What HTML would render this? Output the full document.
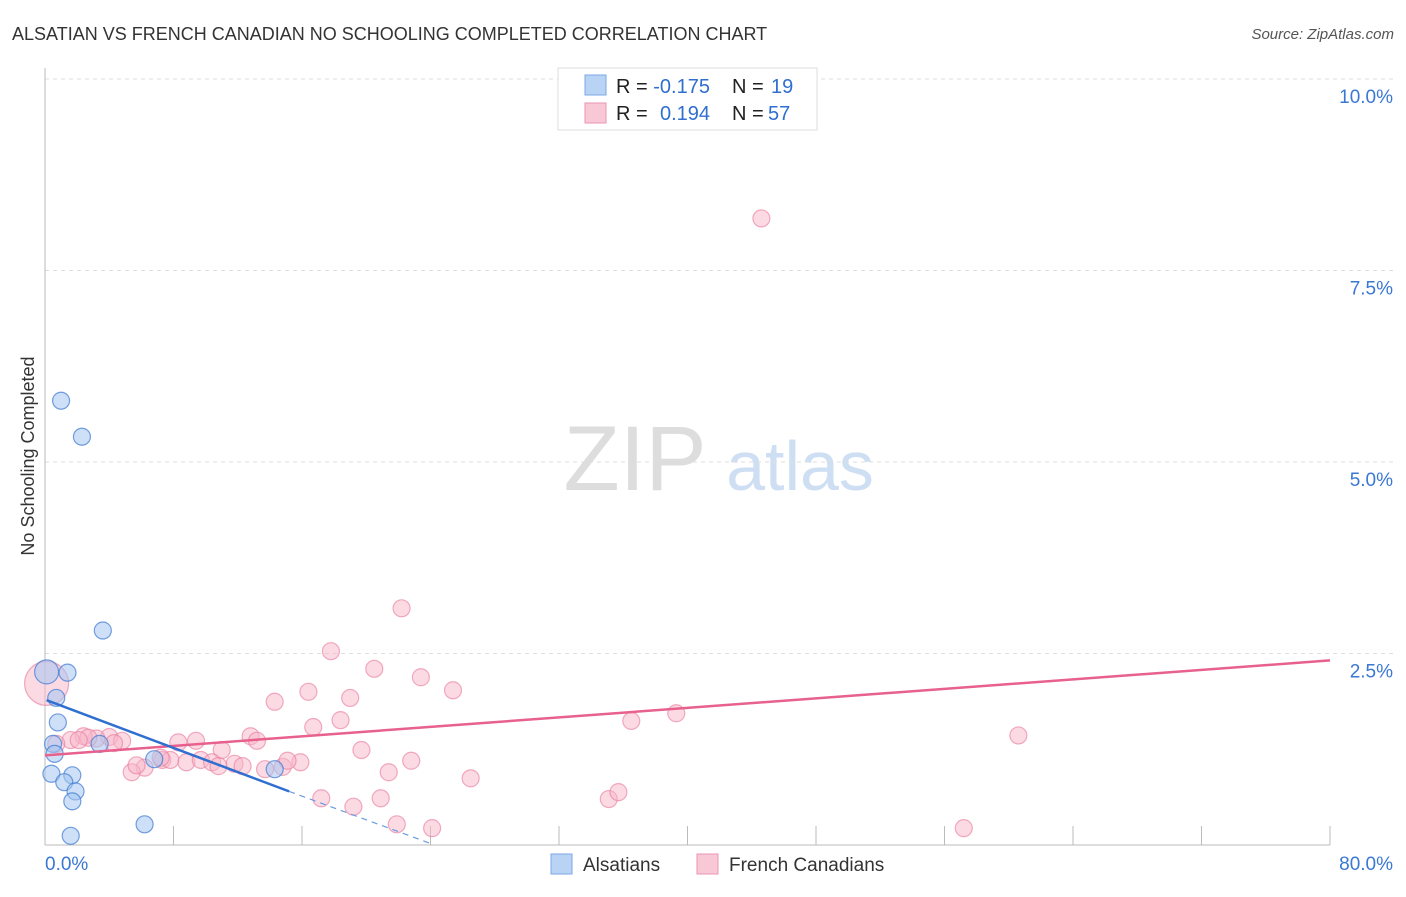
<!DOCTYPE html>
<html><head><meta charset="utf-8"><style>
body{margin:0;background:#fff;font-family:"Liberation Sans",sans-serif}
svg text{font-family:"Liberation Sans",sans-serif}
</style></head><body>
<svg id="chart" width="1406" height="892">
<text x="12" y="40" font-size="18" fill="#333">ALSATIAN VS FRENCH CANADIAN NO SCHOOLING COMPLETED CORRELATION CHART</text>
<text x="1394" y="39" font-size="15" fill="#555" font-style="italic" text-anchor="end">Source: ZipAtlas.com</text>
<text x="34" y="456" font-size="18" fill="#333" text-anchor="middle" transform="rotate(-90 34 456)">No Schooling Completed</text>
<g><text x="635" y="490" font-size="92" fill="#ddd" font-family="Liberation Serif" text-anchor="middle">ZIP</text><text x="800" y="490" font-size="70" fill="#cfdff3" text-anchor="middle">atlas</text></g>
<g id="grid"></g><g id="axes"></g><g id="marks"></g>
<g>
<rect x="558" y="68" width="259" height="62" fill="#fff" stroke="#ddd"/>
<rect x="585" y="75" width="21" height="20" fill="#b9d3f5" stroke="#7aa7e8"/>
<rect x="585" y="103" width="21" height="20" fill="#f9c8d6" stroke="#eb95b1"/>
<text x="616" y="93" font-size="20" fill="#222">R = <tspan fill="#2f6fd0">-0.175</tspan><tspan x="732">N = </tspan><tspan fill="#2f6fd0" x="771">19</tspan></text>
<text x="616" y="120" font-size="20" fill="#222">R = <tspan fill="#2f6fd0" x="660">0.194</tspan><tspan x="732">N = </tspan><tspan fill="#2f6fd0" x="768">57</tspan></text>
</g>
<g>
<rect x="551" y="854" width="21" height="20" fill="#b9d3f5" stroke="#7aa7e8"/>
<text x="583" y="871" font-size="19" fill="#333">Alsatians</text>
<rect x="697" y="854" width="21" height="20" fill="#f9c8d6" stroke="#eb95b1"/>
<text x="729" y="871" font-size="19" fill="#333">French Canadians</text>
</g>
</svg>
<script>
const yTicks=[2.5,5,7.5,10];
const yTickLabels=["2.5%","5.0%","7.5%","10.0%"];
const xTicks=[0,8,16,24,32,40,48,56,64,72,80];
const blueX=[1.0,2.3,3.6,0.1,1.4,0.7,0.8,0.5,0.6,0.4,1.7,1.2,1.9,1.7,3.4,6.8,14.3,6.2,1.6];
const blueY=[5.8,5.33,2.8,2.26,2.25,1.92,1.6,1.32,1.19,0.93,0.91,0.82,0.7,0.57,1.32,1.12,0.99,0.27,0.12];
const pinkX=[0.1,44.6,22.2,17.8,20.5,23.4,16.4,19.0,25.4,14.3,16.7,18.4,36.5,39.3,60.6,12.8,13.2,19.7,9.4,8.3,11.0,4.0,4.8,3.2,2.4,1.6,0.7,2.7,4.3,2.1,8.8,9.7,10.4,11.8,12.3,13.7,14.8,15.9,15.1,22.8,21.4,26.5,6.2,5.4,7.3,7.8,5.7,10.8,17.2,19.2,20.9,21.9,24.1,35.1,35.7,57.2,7.2];
const pinkY=[2.11,8.18,3.09,2.53,2.3,2.19,2.0,1.92,2.02,1.87,1.54,1.63,1.62,1.72,1.43,1.42,1.36,1.24,1.36,1.34,1.24,1.41,1.36,1.39,1.42,1.37,1.32,1.40,1.33,1.37,1.08,1.11,1.08,1.06,1.03,0.99,1.02,1.08,1.10,1.10,0.95,0.87,1.01,0.95,1.11,1.11,1.04,1.03,0.61,0.50,0.61,0.27,0.22,0.60,0.69,0.22,1.14];
const blueLine=[[0.1,1.89],[15.2,0.7]];
const blueDash=[[15.2,0.7],[24.0,0.02]];
const pinkLine=[[0,1.17],[80,2.41]];
const NS="http://www.w3.org/2000/svg";
const X=v=>45+v/80*1285, Y=v=>845-v*76.6;
function mk(t,a,p){const e=document.createElementNS(NS,t);for(const k in a)e.setAttribute(k,a[k]);p.appendChild(e);return e;}
const grid=document.getElementById('grid'),axes=document.getElementById('axes'),marks=document.getElementById('marks');
yTicks.forEach((t,i)=>{
 const l=mk('line',{x1:45,x2:1395,y1:Y(t),y2:Y(t),stroke:'#ddd','stroke-dasharray':'4 4'},grid);
 
 
 const tx=mk('text',{x:1393,y:Y(t)+24,'font-size':19,fill:'#3a78d4','text-anchor':'end'},axes);
 tx.textContent=yTickLabels[i];
 
 
});
const ya=mk('line',{x1:45,x2:45,y1:68,y2:845,stroke:'#bbb'},axes);


const xa=mk('line',{x1:45,x2:1330,y1:845,y2:845,stroke:'#bbb'},axes);


xTicks.forEach(t=>{
 const l=mk('line',{x1:X(t),x2:X(t),y1:826,y2:845,stroke:'#bbb'},axes);
 
 
});
[[0,"0.0%",'start',45],[80,"80.0%",'end',1393]].forEach(([v,s,a,x])=>{
 const t=mk('text',{x:x,y:870,'font-size':19,fill:'#3a78d4','text-anchor':a},axes);t.textContent=s;
 
 
});
pinkX.forEach((v,i)=>{
 const c=mk('circle',{cx:X(v),cy:Y(pinkY[i]),r:i==0?22:8.5,fill:'rgba(247,182,202,0.5)',stroke:'rgba(232,120,155,0.6)','stroke-width':1.2},marks);
 
 
});
blueX.forEach((v,i)=>{
 const c=mk('circle',{cx:X(v),cy:Y(blueY[i]),r:i==3?12:8.5,fill:'rgba(164,198,240,0.55)',stroke:'rgba(60,120,210,0.7)','stroke-width':1.2},marks);
 
 
});
const pl=mk('line',{x1:X(pinkLine[0][0]),y1:Y(pinkLine[0][1]),x2:X(pinkLine[1][0]),y2:Y(pinkLine[1][1]),stroke:'#e8608d','stroke-width':2.5},marks);


const bl=mk('line',{x1:X(blueLine[0][0]),y1:Y(blueLine[0][1]),x2:X(blueLine[1][0]),y2:Y(blueLine[1][1]),stroke:'#2f6fd0','stroke-width':2.5},marks);


const bd=mk('line',{x1:X(blueDash[0][0]),y1:Y(blueDash[0][1]),x2:X(blueDash[1][0]),y2:Y(blueDash[1][1]),stroke:'#6a9be0','stroke-width':1.2,'stroke-dasharray':'6 5'},marks);


</script>
</body></html>
